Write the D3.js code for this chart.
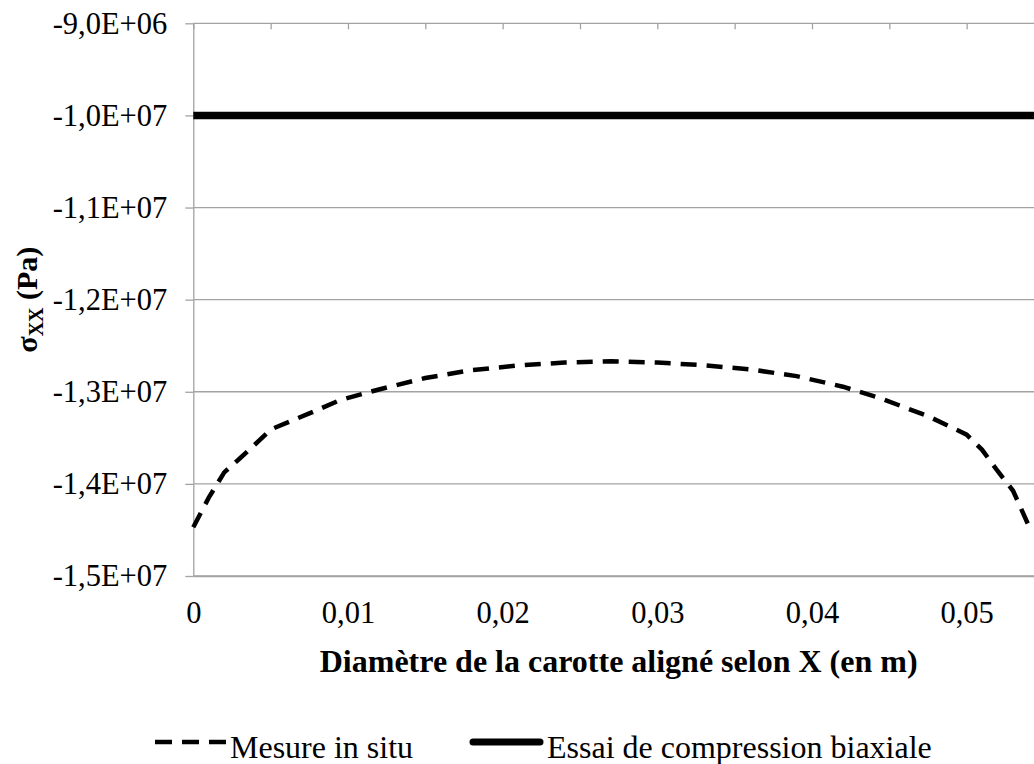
<!DOCTYPE html>
<html>
<head>
<meta charset="utf-8">
<script src="https://cdn.jsdelivr.net/npm/d3@7"></script>
</head>
<body style="margin:0; background:#fff">
<svg id="chart" width="1034" height="764"></svg>
<script>
// Mesure in situ (dashed), sigma_xx along the core diameter
const mesureX = [0, 0.001, 0.002, 0.003, 0.004, 0.005, 0.0075, 0.0095, 0.012, 0.015,
  0.018, 0.021, 0.024, 0.027, 0.030, 0.033, 0.036, 0.039, 0.042, 0.0445,
  0.0475, 0.050, 0.051, 0.052, 0.053, 0.054];
const mesureY = [-1.447e7, -1.415e7, -1.3875e7, -1.3725e7, -1.357e7, -1.341e7, -1.3235e7, -1.309e7, -1.2975e7, -1.2851e7,
  -1.2765e7, -1.2715e7, -1.2683e7, -1.2668e7, -1.2683e7, -1.2712e7, -1.2757e7, -1.283e7, -1.2945e7, -1.3075e7,
  -1.3265e7, -1.3465e7, -1.363e7, -1.386e7, -1.4075e7, -1.445e7];

// Essai de compression biaxiale (solid)
const essaiX = [0, 0.005, 0.01, 0.015, 0.02, 0.025, 0.03, 0.035, 0.04, 0.045, 0.05, 0.055];
const essaiY = [-1e7, -1e7, -1e7, -1e7, -1e7, -1e7, -1e7, -1e7, -1e7, -1e7, -1e7, -1e7];

const yTicks = [-1.5e7, -1.4e7, -1.3e7, -1.2e7, -1.1e7, -1e7, -9e6];
const xTicks = [0, 0.01, 0.02, 0.03, 0.04, 0.05];
const xMinorTicks = [0, 0.005, 0.01, 0.015, 0.02, 0.025, 0.03, 0.035, 0.04, 0.045, 0.05, 0.055];

const svg = d3.select('#chart');
const grid = '#a3a3a3';
const serif = '"Liberation Serif"';

const x = d3.scaleLinear().domain([0, 0.055]).range([193.3, 1044]);
const y = d3.scaleLinear().domain([-1.5e7, -9e6]).range([576, 23.3]);

const frLocale = d3.formatLocale({ decimal: ',', thousands: ' ', grouping: [3], currency: ['', ' €'], minus: '-' });
const fmtX = frLocale.format('~g');
const fmtE = frLocale.format('.1e');
function fmtY(v) {
  // -9,0e+6 -> -9,0E+06
  const [m, e] = fmtE(v).split('e');
  return m + 'E' + e[0] + e.slice(1).padStart(2, '0');
}

// horizontal gridlines
svg.append('g')
  .selectAll('line')
  .data(yTicks)
  .join('line')
  .attr('x1', x(0))
  .attr('x2', x(0.055))
  .attr('y1', (d) => y(d))
  .attr('y2', (d) => y(d))
  .attr('stroke', grid)
  .attr('stroke-width', 1.3);

// tick marks hanging from the top line
const topAxis = svg.append('g')
  .attr('transform', `translate(0,${y(-9e6)})`)
  .call(d3.axisBottom(x).tickValues(xMinorTicks).tickSize(6).tickSizeOuter(0).tickFormat(''));
topAxis.select('.domain').remove();
topAxis.selectAll('line').attr('stroke', grid).attr('stroke-width', 1.3);

// bottom axis
const xAxis = svg.append('g')
  .attr('transform', `translate(0,${y(-1.5e7)})`)
  .call(d3.axisBottom(x).tickValues(xTicks).tickSize(0).tickSizeOuter(0).tickPadding(25).tickFormat(fmtX));
xAxis.attr('font-family', null).attr('font-size', null);
xAxis.select('.domain').attr('stroke', grid).attr('stroke-width', 1.3);
xAxis.selectAll('text')
  .style('font-family', serif)
  .style('font-size', '30.5px')
  .attr('fill', '#000');

// left axis
const yAxis = svg.append('g')
  .attr('transform', `translate(${x(0)},0)`)
  .call(d3.axisLeft(y).tickValues(yTicks).tickSize(8).tickSizeOuter(0).tickPadding(18).tickFormat(fmtY));
yAxis.attr('font-family', null).attr('font-size', null);
yAxis.select('.domain').attr('stroke', grid).attr('stroke-width', 1.3);
yAxis.selectAll('line').attr('stroke', grid).attr('stroke-width', 1.3);
yAxis.selectAll('text')
  .style('font-family', serif)
  .style('font-size', '30.5px')
  .attr('fill', '#000');

// series
const line = d3.line().x((d) => x(d[0])).y((d) => y(d[1]));

svg.append('path')
  .datum(essaiX.map((v, i) => [v, essaiY[i]]))
  .attr('d', line)
  .attr('fill', 'none')
  .attr('stroke', '#000')
  .attr('stroke-width', 7.5);

svg.append('path')
  .datum(mesureX.map((v, i) => [v, mesureY[i]]))
  .attr('d', line)
  .attr('fill', 'none')
  .attr('stroke', '#000')
  .attr('stroke-width', 4.5)
  .attr('stroke-dasharray', '16,10');

// axis titles
svg.append('text')
  .attr('x', (x(0) + x(0.055)) / 2)
  .attr('y', 672)
  .attr('text-anchor', 'middle')
  .style('font-family', serif)
  .style('font-size', '32px')
  .style('font-weight', 'bold')
  .text('Diamètre de la carotte aligné selon X (en m)');

const yTitle = svg.append('text')
  .attr('transform', `translate(37,${(y(-9e6) + y(-1.5e7)) / 2}) rotate(-90)`)
  .attr('text-anchor', 'middle')
  .style('font-family', serif)
  .style('font-size', '30px')
  .style('font-weight', 'bold');
yTitle.append('tspan').text('σ');
yTitle.append('tspan').style('font-size', '20px').attr('dy', 6).text('XX');
yTitle.append('tspan').attr('dy', -6).text(' (Pa)');

// legend
const legend = svg.append('g');
legend.append('line')
  .attr('x1', 155).attr('x2', 226).attr('y1', 742).attr('y2', 742)
  .attr('stroke', '#000').attr('stroke-width', 4.5)
  .attr('stroke-dasharray', '17,10');
legend.append('text')
  .attr('x', 230).attr('y', 758)
  .style('font-family', serif)
  .style('font-size', '32px')
  .text('Mesure in situ');
legend.append('line')
  .attr('x1', 473).attr('x2', 540).attr('y1', 742).attr('y2', 742)
  .attr('stroke', '#000').attr('stroke-width', 7)
  .attr('stroke-linecap', 'round');
legend.append('text')
  .attr('x', 547).attr('y', 758)
  .style('font-family', serif)
  .style('font-size', '32px')
  .text('Essai de compression biaxiale');
</script>
</body>
</html>
